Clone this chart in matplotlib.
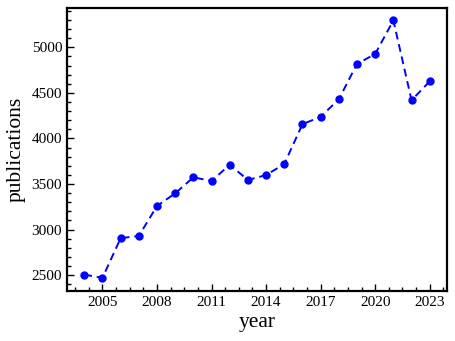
import matplotlib
matplotlib.use("Agg")
import matplotlib.pyplot as plt
from matplotlib.ticker import AutoMinorLocator, MultipleLocator

years = [2004, 2005, 2006, 2007, 2008, 2009, 2010, 2011, 2012, 2013,
         2014, 2015, 2016, 2017, 2018, 2019, 2020, 2021, 2022, 2023]
publications = [2505, 2470, 2905, 2930, 3258, 3397, 3573, 3533, 3711, 3544,
                3598, 3719, 4157, 4237, 4430, 4818, 4927, 5296, 4419, 4627]
xticks = [2005, 2008, 2011, 2014, 2017, 2020, 2023]

plt.rcParams['font.family'] = ['Liberation Serif', 'DejaVu Serif']

fig = plt.figure(figsize=(4.55, 3.41), dpi=100)
ax = fig.add_axes([67/455, 1 - 290.7/341, (447 - 67)/455, (290.7 - 7.5)/341])
ax.plot(years, publications, linestyle='--', color='blue', marker='o',
        markersize=5, linewidth=1.4, dashes=(4, 2.5))
ax.set_xticks(xticks)
ax.yaxis.set_major_locator(MultipleLocator(500))
ax.xaxis.set_minor_locator(AutoMinorLocator())
ax.yaxis.set_minor_locator(AutoMinorLocator())
ax.tick_params(which='both', direction='in', top=False, right=False, labelsize=11, width=1)
ax.tick_params(which='major', length=5)
ax.tick_params(which='minor', length=3)
for s in ax.spines.values():
    s.set_linewidth(1.6)
ax.set_xlabel('year', fontsize=15.5, labelpad=3)
ax.set_ylabel('publications', fontsize=15.5, labelpad=4)
fig.savefig('out.png', dpi=100)
